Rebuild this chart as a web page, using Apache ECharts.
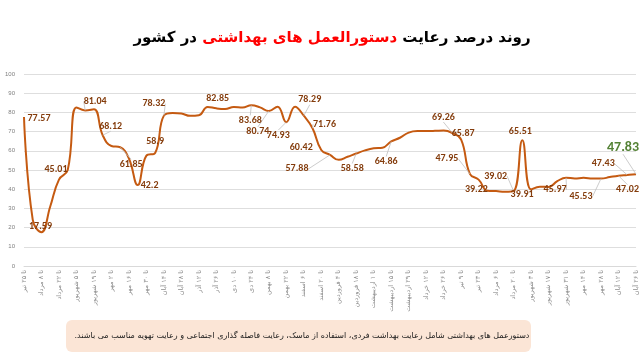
<!DOCTYPE html>
<html>
<head>
<meta charset="utf-8">
<script src="https://cdn.jsdelivr.net/npm/echarts@6/dist/echarts.min.js"></script>
<style>html,body{margin:0;padding:0;background:#fff}#c{width:640px;height:360px}</style>
</head>
<body>
<div id="c"></div>
<script>
const categories = ['تا ۲۵ تیر','تا ۱ مرداد','تا ۸ مرداد','تا ۱۵ مرداد','تا ۲۲ مرداد','تا ۲۹ مرداد','تا ۵ شهریور','تا ۱۲ شهریور','تا ۱۹ شهریور','تا ۲۶ شهریور','تا ۲ مهر','تا ۹ مهر','تا ۱۶ مهر','تا ۲۳ مهر','تا ۳۰ مهر','تا ۷ آبان','تا ۱۴ آبان','تا ۲۱ آبان','تا ۲۸ آبان','تا ۵ آذر','تا ۱۲ آذر','تا ۱۹ آذر','تا ۲۶ آذر','تا ۳ دی','تا ۱۰ دی','تا ۱۷ دی','تا ۲۴ دی','تا ۱ بهمن','تا ۸ بهمن','تا ۱۵ بهمن','تا ۲۲ بهمن','تا ۲۹ بهمن','تا ۶ اسفند','تا ۱۳ اسفند','تا ۲۰ اسفند','تا ۲۷ اسفند','تا ۴ فروردین','تا ۱۱ فروردین','تا ۱۸ فروردین','تا ۲۵ فروردین','تا ۱ اردیبهشت','تا ۸ اردیبهشت','تا ۱۵ اردیبهشت','تا ۲۲ اردیبهشت','تا ۲۹ اردیبهشت','تا ۵ خرداد','تا ۱۲ خرداد','تا ۱۹ خرداد','تا ۲۶ خرداد','تا ۲ تیر','تا ۹ تیر','تا ۱۶ تیر','تا ۲۳ تیر','تا ۳۰ تیر','تا ۶ مرداد','تا ۱۳ مرداد','تا ۲۰ مرداد','تا ۲۷ مرداد','تا ۳ شهریور','تا ۱۰ شهریور','تا ۱۷ شهریور','تا ۲۴ شهریور','تا ۳۱ شهریور','تا ۷ مهر','تا ۱۴ مهر','تا ۲۱ مهر','تا ۲۸ مهر','تا ۵ آبان','تا ۱۲ آبان','تا ۱۹ آبان','تا ۲۶ آبان'];

const values = [77.57,24,17.59,31,45.01,50,82.6,81.04,81.6,68.12,
62.5,61.85,56,42.2,57.5,58.9,78.32,79.7,79.4,78.2,
78.5,82.85,82.1,81.8,82.8,82.5,83.68,82.6,80.74,83.0,
74.93,83.0,78.29,71.76,60.42,57.88,55.3,56.9,58.58,60.2,
61.3,61.6,64.86,66.8,69.5,70.3,70.3,70.4,70.6,69.26,
65.87,47.95,45,39.22,39.0,38.7,39.02,65.51,39.91,41.3,
41.2,44.2,45.97,45.6,45.9,45.6,45.53,46.3,47.02,47.43,
47.83];

const titleParts = ['در کشور', 'دستورالعمل های بهداشتی', 'روند درصد رعایت'];
const noteText = 'دستورعمل های بهداشتی شامل رعایت بهداشت فردی، استفاده از ماسک، رعایت فاصله گذاری اجتماعی و رعایت تهویه مناسب می باشند.\u200F';

// callout layout: dataIndex -> [dx, dy, showLeader]
const callouts = {
  0:[15,1,0], 2:[-1,-6,0], 4:[-3,-10,0], 7:[10,-9,1], 9:[8,-9,1], 11:[11,17,1],
  13:[12,1,0], 15:[0,-11,0], 16:[-10,-12,1], 21:[10,-8,0], 26:[-1,15,1],
  28:[-11,21,1], 30:[-8,13,1], 32:[6,-16,1], 33:[12,-4,1], 34:[-20,-2,0],
  35:[-33,14,1], 38:[-4,15,1], 42:[-5,20,1], 49:[-9,-16,1], 50:[2,-6,0],
  51:[-23,-15,1], 53:[-11,-1,0], 56:[-18,-15,1], 57:[-2,-9,0], 58:[-9,5,0],
  62:[-11,12,1], 66:[-20,18,1], 68:[9,14,1], 69:[-24,-11,1], 70:[-13,-27,1]
};
const lastIdx = values.length - 1;

const seriesData = values.map((v, i) => {
  const c = callouts[i];
  if (!c) return v;
  const item = {
    value: v,
    label: { show: true },
    labelLine: { show: !!c[2] }
  };
  if (i === lastIdx) {
    item.label = { show: true, color: '#548235', fontSize: 14 };
  }
  return item;
});

const chart = echarts.init(document.getElementById('c'), null, {renderer: 'canvas'});
chart.setOption({
  animation: false,
  backgroundColor: '#ffffff',
  grid: { left: 24, right: 4, top: 74, bottom: 94, containLabel: false },
  xAxis: {
    type: 'category',
    data: categories,
    boundaryGap: false,
    axisTick: { show: false },
    axisLine: { lineStyle: { color: '#d9d9d9' } },
    axisLabel: { interval: 1, rotate: 90, fontSize: 6.5, color: '#8c8c8c', margin: 4, fontFamily: 'DejaVu Sans' },
    splitLine: { show: false }
  },
  yAxis: {
    type: 'value', min: 0, max: 100, interval: 10,
    axisLine: { show: false }, axisTick: { show: false },
    axisLabel: { fontSize: 6, color: '#7f7f7f', margin: 9, fontFamily: 'Liberation Sans' },
    splitLine: { lineStyle: { color: '#dedede', width: 1 } }
  },
  series: [{
    type: 'line',
    data: seriesData,
    smooth: 0.45,
    symbol: 'circle',
    symbolSize: 0.1,
    showSymbol: true,
    showAllSymbol: true,
    itemStyle: { color: '#C55A11', opacity: 0 },
    lineStyle: { color: '#C55A11', width: 2 },
    label: {
      show: false,
      position: 'inside',
      formatter: p => String(p.value),
      color: '#843C0C',
      fontSize: 10,
      fontWeight: 'bold',
      fontFamily: 'Carlito, "Liberation Sans", sans-serif',
      opacity: 1
    },
    labelLine: { show: false, lineStyle: { color: '#bfbfbf', width: 0.8 } },
    labelLayout: function (p) {
      const c = callouts[p.dataIndex];
      if (!c) return {};
      return { dx: c[0], dy: c[1] };
    },
    z: 3
  }],
  graphic: [
    {
      type: 'text',
      x: 332, y: 38,
      style: {
        text: '{k|' + titleParts[0] + '} {r|' + titleParts[1] + '} {k|' + titleParts[2] + '}',
        align: 'center', verticalAlign: 'middle',
        font: 'bold 15px "DejaVu Sans"',
        rich: {
          k: { fill: '#000000', fontSize: 15, fontWeight: 'bold', fontFamily: 'DejaVu Sans' },
          r: { fill: '#ff0000', fontSize: 15, fontWeight: 'bold', fontFamily: 'DejaVu Sans' }
        }
      }
    },
    {
      type: 'rect',
      shape: { x: 66, y: 320, width: 465, height: 32, r: 6 },
      style: { fill: '#FBE5D6' }
    },
    {
      type: 'text',
      x: 302, y: 336,
      style: {
        text: noteText,
        align: 'center', verticalAlign: 'middle',
        fill: '#1a1a1a',
        font: '8px "DejaVu Sans"'
      }
    }
  ]
});
</script>
</body>
</html>
